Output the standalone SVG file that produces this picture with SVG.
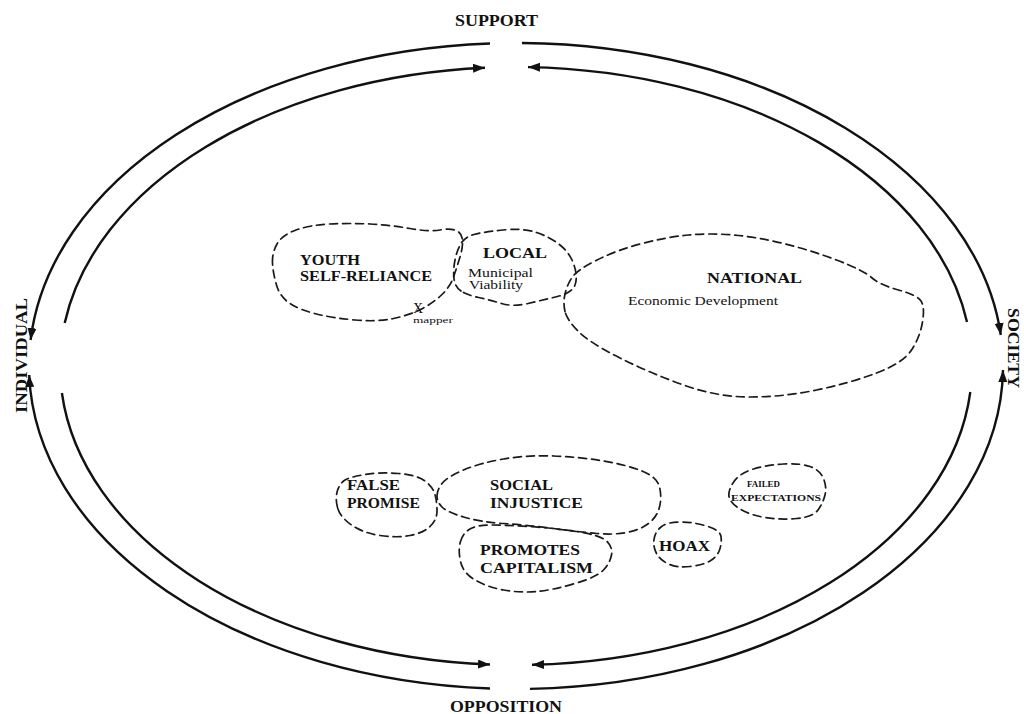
<svg xmlns="http://www.w3.org/2000/svg" width="1024" height="714" viewBox="0 0 1024 714">
<style>
.bg{fill:#fff}
.arc{fill:none;stroke:#111;stroke-width:2.4}
.blob{fill:none;stroke:#1a1a1a;stroke-width:1.7;stroke-dasharray:8 5;stroke-linecap:round}
.t{font-family:"Liberation Serif","Times New Roman",serif;fill:#111}
.b{font-weight:bold}
.big{font-size:16px}
.h{font-size:15px}
.r{font-size:12px}
.s{font-size:9px}
</style>
<defs>
<marker id="ah" markerUnits="userSpaceOnUse" markerWidth="14" markerHeight="10" refX="12" refY="4.5" orient="auto">
<path d="M0,0 L12,4.5 L0,9 Z" fill="#111"/>
</marker>
</defs>
<rect class="bg" x="0" y="0" width="1024" height="714"/>

<g id="connectors">
<path class="arc" d="M490,43.5 A487,323 0 0,0 30.6,340" marker-end="url(#ah)"/>
<path class="arc" d="M490,688.5 A487,323 0 0,1 29.2,375" marker-end="url(#ah)"/>
<path class="arc" d="M522,43 A487,323 0 0,1 1000.8,335" marker-end="url(#ah)"/>
<path class="arc" d="M530,688.9 A487,323 0 0,0 1003,370" marker-end="url(#ah)"/>
<path class="arc" d="M64.7,323 A456,299 0 0,1 485,67.7" marker-end="url(#ah)"/>
<path class="arc" d="M967,322 A456,299 0 0,0 528,67.1" marker-end="url(#ah)"/>
<path class="arc" d="M61.9,393 A456,299 0 0,0 490,664.5" marker-end="url(#ah)"/>
<path class="arc" d="M970.3,392 A456,299 0 0,1 532,664.8" marker-end="url(#ah)"/>
</g>

<g id="support"><text class="t b big" x="455" y="26" textLength="83" lengthAdjust="spacingAndGlyphs">SUPPORT</text></g>
<g id="opposition"><text class="t b big" x="450" y="712" textLength="112" lengthAdjust="spacingAndGlyphs">OPPOSITION</text></g>
<g id="individual"><text class="t b big" transform="translate(27,413) rotate(-90)" x="0" y="0" textLength="115" lengthAdjust="spacingAndGlyphs">INDIVIDUAL</text></g>
<g id="society"><text class="t b big" transform="translate(1008,308) rotate(90)" x="0" y="0" textLength="80" lengthAdjust="spacingAndGlyphs">SOCIETY</text></g>

<g id="youth">
<path class="blob" d="M272.5,263 Q272,253 277,244 Q282,235 296,230 Q310,225 330,224 Q350,223 370,224 Q390,225 410,228.5 Q430,232 440,230 Q450,228 456,230.5 Q462,233 462.5,240 Q463,247 460,257 Q457,267 453.5,277 Q450,287 441.5,295 Q433,303 421.5,309 Q410,315 393.5,318.5 Q377,322 355,320 Q333,318 316.5,314 Q300,310 290,303.5 Q280,297 276.5,285 Q273,273 272.5,263 Z"/>
<text class="t b h" x="300" y="265" textLength="60" lengthAdjust="spacingAndGlyphs">YOUTH</text>
<text class="t b h" x="300" y="281" textLength="132" lengthAdjust="spacingAndGlyphs">SELF-RELIANCE</text>
<text class="t" style="font-size:14px" x="413" y="313">X</text>
<text class="t s" x="413" y="323" textLength="40" lengthAdjust="spacingAndGlyphs">mapper</text>
</g>

<g id="local">
<path class="blob" d="M461,291 Q455,287 454,278.5 Q453,270 455,260 Q457,250 461,243.5 Q465,237 474,234.5 Q483,232 503,230 Q523,228 536.5,232.5 Q550,237 560,245 Q570,253 574,265 Q578,277 575,285 Q572,293 557.5,296.5 Q543,300 528,303.5 Q513,307 501.5,303.5 Q490,300 478.5,297.5 Q467,295 461,291 Z"/>
<text class="t b h" x="483" y="258" textLength="64" lengthAdjust="spacingAndGlyphs">LOCAL</text>
<text class="t r" x="468" y="277" textLength="65" lengthAdjust="spacingAndGlyphs">Municipal</text>
<text class="t r" x="469" y="289" textLength="54" lengthAdjust="spacingAndGlyphs">Viability</text>
</g>

<g id="national">
<path class="blob" d="M565,311.5 Q563,303 565,294 Q567,285 572,277.5 Q577,270 597,260 Q617,250 642,243.5 Q667,237 688.5,235 Q710,233 733.5,235 Q757,237 783.5,243.5 Q810,250 836.5,260 Q863,270 871.5,277.5 Q880,285 898.5,290 Q917,295 921,301 Q925,307 922.5,322 Q920,337 911.5,350 Q903,363 876.5,373 Q850,383 816.5,390 Q783,397 750,397 Q717,397 683.5,385 Q650,373 620,358 Q590,343 578.5,331.5 Q567,320 565,311.5 Z"/>
<text class="t b h" x="707" y="283" textLength="95" lengthAdjust="spacingAndGlyphs">NATIONAL</text>
<text class="t r" x="628" y="305" textLength="150" lengthAdjust="spacingAndGlyphs">Economic Development</text>
</g>

<g id="false-promise">
<path class="blob" d="M337.5,507.5 Q335,498 337.5,490.5 Q340,483 345,480 Q350,477 365,474.5 Q380,472 398.5,473.5 Q417,475 425,481 Q433,487 435,494.5 Q437,502 437,511 Q437,520 430,526.5 Q423,533 410,535.5 Q397,538 380,535.5 Q363,533 351.5,525 Q340,517 337.5,507.5 Z"/>
<text class="t b h" x="347" y="490" textLength="53" lengthAdjust="spacingAndGlyphs">FALSE</text>
<text class="t b h" x="347" y="508" textLength="73" lengthAdjust="spacingAndGlyphs">PROMISE</text>
</g>

<g id="social-injustice">
<path class="blob" d="M437,496 Q437,490 442,483.5 Q447,477 463.5,470 Q480,463 503.5,459 Q527,455 553.5,456 Q580,457 603.5,461 Q627,465 642,471 Q657,477 659.5,487 Q662,497 659.5,507 Q657,517 648.5,523.5 Q640,530 626.5,532.5 Q613,535 596.5,533.5 Q580,532 553.5,528.5 Q527,525 503.5,523.5 Q480,522 463.5,517 Q447,512 442,507 Q437,502 437,496 Z"/>
<text class="t b h" x="490" y="490" textLength="63" lengthAdjust="spacingAndGlyphs">SOCIAL</text>
<text class="t b h" x="490" y="508" textLength="93" lengthAdjust="spacingAndGlyphs">INJUSTICE</text>
</g>

<g id="promotes-capitalism">
<path class="blob" d="M460.5,541.5 Q463,533 470,529 Q477,525 490,525 Q503,525 528,526.5 Q553,528 576.5,531.5 Q600,535 606.5,541 Q613,547 611.5,555 Q610,563 603.5,570 Q597,577 575,583.5 Q553,590 536.5,591.5 Q520,593 503.5,590 Q487,587 475,580 Q463,573 460.5,561.5 Q458,550 460.5,541.5 Z"/>
<text class="t b h" x="480" y="555" textLength="100" lengthAdjust="spacingAndGlyphs">PROMOTES</text>
<text class="t b h" x="480" y="573" textLength="113" lengthAdjust="spacingAndGlyphs">CAPITALISM</text>
</g>

<g id="hoax">
<path class="blob" d="M656.5,553.5 Q653,547 654,539.5 Q655,532 661,527 Q667,522 680,522 Q693,522 706.5,526 Q720,530 721,536.5 Q722,543 719.5,550 Q717,557 710,561 Q703,565 690,566.5 Q677,568 668.5,564 Q660,560 656.5,553.5 Z"/>
<text class="t b h" x="659" y="551" textLength="51" lengthAdjust="spacingAndGlyphs">HOAX</text>
</g>

<g id="failed-expectations">
<path class="blob" d="M729,496.5 Q728,490 734,481.5 Q740,473 753.5,469 Q767,465 783.5,464 Q800,463 810,466.5 Q820,470 823.5,478.5 Q827,487 825,495 Q823,503 818,510 Q813,517 796.5,518.5 Q780,520 765,517.5 Q750,515 740,509 Q730,503 729,496.5 Z"/>
<text class="t b s" x="747" y="487" textLength="33" lengthAdjust="spacingAndGlyphs">FAILED</text>
<text class="t b s" x="731" y="501" textLength="90" lengthAdjust="spacingAndGlyphs">EXPECTATIONS</text>
</g>
</svg>
